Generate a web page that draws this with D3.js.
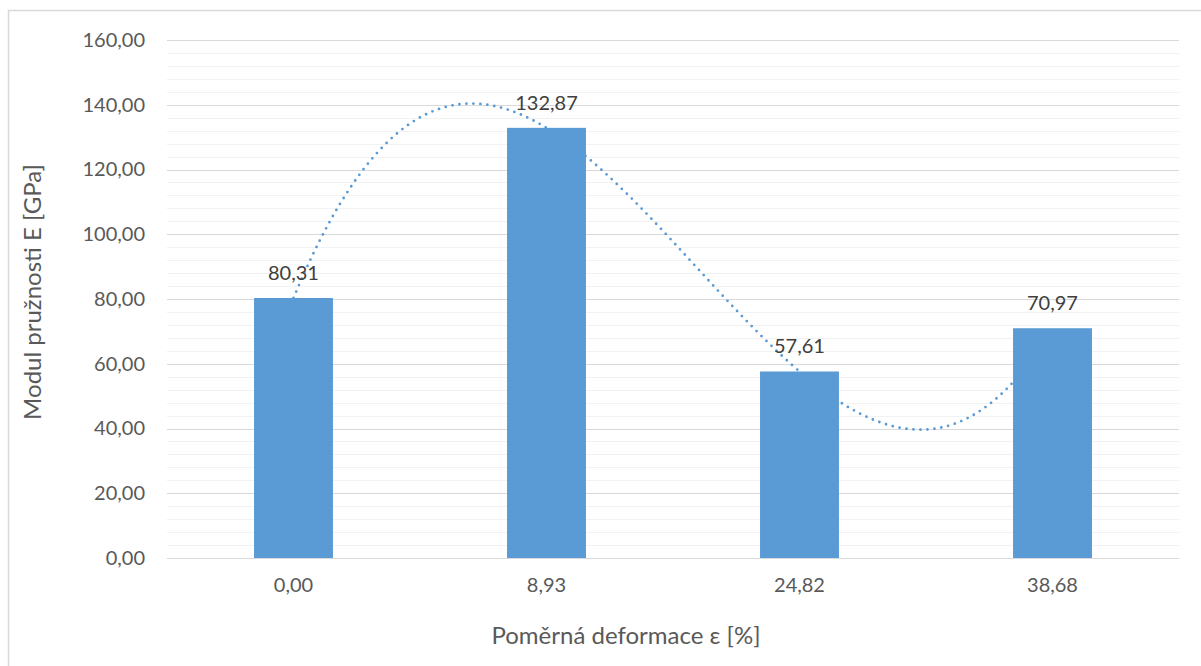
<!DOCTYPE html>
<html>
<head>
<meta charset="utf-8">
<script src="https://cdn.jsdelivr.net/npm/d3@7"></script>
<style>
  html, body { margin: 0; padding: 0; background: #fff; }
  svg { display: block; font-family: Lato, "Open Sans", sans-serif; }
</style>
</head>
<body>
<svg id="chart" width="1201" height="666"></svg>
<script>
// Strain categories (x axis) and elastic modulus values (GPa)
const categories = ["0,00", "8,93", "24,82", "38,68"];
const modulus = [80.31, 132.87, 57.61, 70.97];
const yTicks = [0, 20, 40, 60, 80, 100, 120, 140, 160];
const yTitle = "Modul pružnosti E [GPa]";
const xTitle = "Poměrná deformace ε [%]";

const W = 1201, H = 666;
const margin = { left: 167, right: 22, top: 40, bottom: 108 };
const plotW = W - margin.left - margin.right;
const plotH = H - margin.top - margin.bottom;

const svg = d3.select("#chart");
const fmt = v => d3.format(".2f")(v).replace(".", ",");

// Chart frame
svg.append("rect")
  .attr("x", 8.5).attr("y", 10.5)
  .attr("width", W + 10).attr("height", H + 10)
  .attr("fill", "#fff").attr("stroke", "#d9d9d9").attr("stroke-width", 1.5);

const g = svg.append("g").attr("transform", `translate(${margin.left},${margin.top})`);

const x = d3.scaleBand().domain(categories).range([0, plotW]).paddingInner(0.688).paddingOuter(0.344);
const y = d3.scaleLinear().domain([0, 160]).range([plotH, 0]);

// Minor gridlines every 4 GPa
const minor = d3.range(4, 160, 4).filter(v => v % 20 !== 0);
g.append("g").selectAll("line").data(minor).join("line")
  .attr("x1", 0).attr("x2", plotW)
  .attr("y1", d => Math.round(y(d)) + 0.5).attr("y2", d => Math.round(y(d)) + 0.5)
  .attr("stroke", "#f2f2f2").attr("stroke-width", 1.2);

// Major gridlines
g.append("g").selectAll("line").data(yTicks).join("line")
  .attr("x1", 0).attr("x2", plotW)
  .attr("y1", d => Math.round(y(d)) + 0.5).attr("y2", d => Math.round(y(d)) + 0.5)
  .attr("stroke", "#d9d9d9").attr("stroke-width", 1.2);

// Y axis labels
const yAxis = d3.axisLeft(y).tickValues(yTicks).tickFormat(fmt).tickSize(0).tickPadding(22);
g.append("g").call(yAxis)
  .call(a => a.select(".domain").remove())
  .selectAll("text")
  .attr("fill", "#595959").attr("font-size", 20).attr("font-family", "Lato, sans-serif");

// X axis labels
const xAxis = d3.axisBottom(x).tickSize(0).tickPadding(20);
g.append("g").attr("transform", `translate(0,${plotH})`).call(xAxis)
  .call(a => a.select(".domain").remove())
  .selectAll("text")
  .attr("fill", "#595959").attr("font-size", 20).attr("font-family", "Lato, sans-serif");

// Polynomial (order 3) trendline fitted to the series by least squares
function polyFit(xs, ys, order) {
  const n = order + 1;
  const A = Array.from({ length: n }, () => new Array(n + 1).fill(0));
  xs.forEach((xv, k) => {
    for (let i = 0; i < n; i++) {
      for (let j = 0; j < n; j++) A[i][j] += Math.pow(xv, i + j);
      A[i][n] += ys[k] * Math.pow(xv, i);
    }
  });
  for (let c = 0; c < n; c++) {
    let p = c;
    for (let r = c + 1; r < n; r++) if (Math.abs(A[r][c]) > Math.abs(A[p][c])) p = r;
    [A[c], A[p]] = [A[p], A[c]];
    for (let r = 0; r < n; r++) {
      if (r === c) continue;
      const f = A[r][c] / A[c][c];
      for (let j = c; j <= n; j++) A[r][j] -= f * A[c][j];
    }
  }
  return A.map((row, i) => row[n] / A[i][i]);
}
const idx = categories.map((_, i) => i + 1);
const coef = polyFit(idx, modulus, 3);
const poly = t => coef.reduce((s, c, i) => s + c * Math.pow(t, i), 0);
const xi = d3.scaleLinear().domain([1, categories.length])
  .range([x(categories[0]) + x.bandwidth() / 2, x(categories[categories.length - 1]) + x.bandwidth() / 2]);
const trendPts = d3.range(1, categories.length + 0.0001, 0.01).map(t => [xi(t), y(poly(t))]);
g.append("path")
  .datum(trendPts)
  .attr("d", d3.line().curve(d3.curveLinear))
  .attr("fill", "none").attr("stroke", "#5b9bd5")
  .attr("stroke-width", 2.8).attr("stroke-linecap", "round")
  .attr("stroke-dasharray", "0 7");

// Bars
g.append("g").selectAll("rect").data(modulus).join("rect")
  .attr("x", (d, i) => x(categories[i]))
  .attr("y", d => y(d))
  .attr("width", x.bandwidth())
  .attr("height", d => plotH - y(d))
  .attr("fill", "#5b9bd5");

// Value labels
g.append("g").selectAll("text").data(modulus).join("text")
  .attr("x", (d, i) => x(categories[i]) + x.bandwidth() / 2)
  .attr("y", d => y(d) - 25)
  .attr("dy", "0.35em")
  .attr("text-anchor", "middle")
  .attr("fill", "#404040").attr("font-size", 20)
  .text(d => fmt(d));

// Axis titles
svg.append("text")
  .attr("x", 626).attr("y", 636).attr("dy", "0.35em")
  .attr("text-anchor", "middle").attr("fill", "#595959").attr("font-size", 24)
  .text(xTitle);
svg.append("text")
  .attr("transform", `translate(33,292) rotate(-90)`)
  .attr("dy", "0.35em")
  .attr("text-anchor", "middle").attr("fill", "#595959").attr("font-size", 24)
  .text(yTitle);
</script>
</body>
</html>
